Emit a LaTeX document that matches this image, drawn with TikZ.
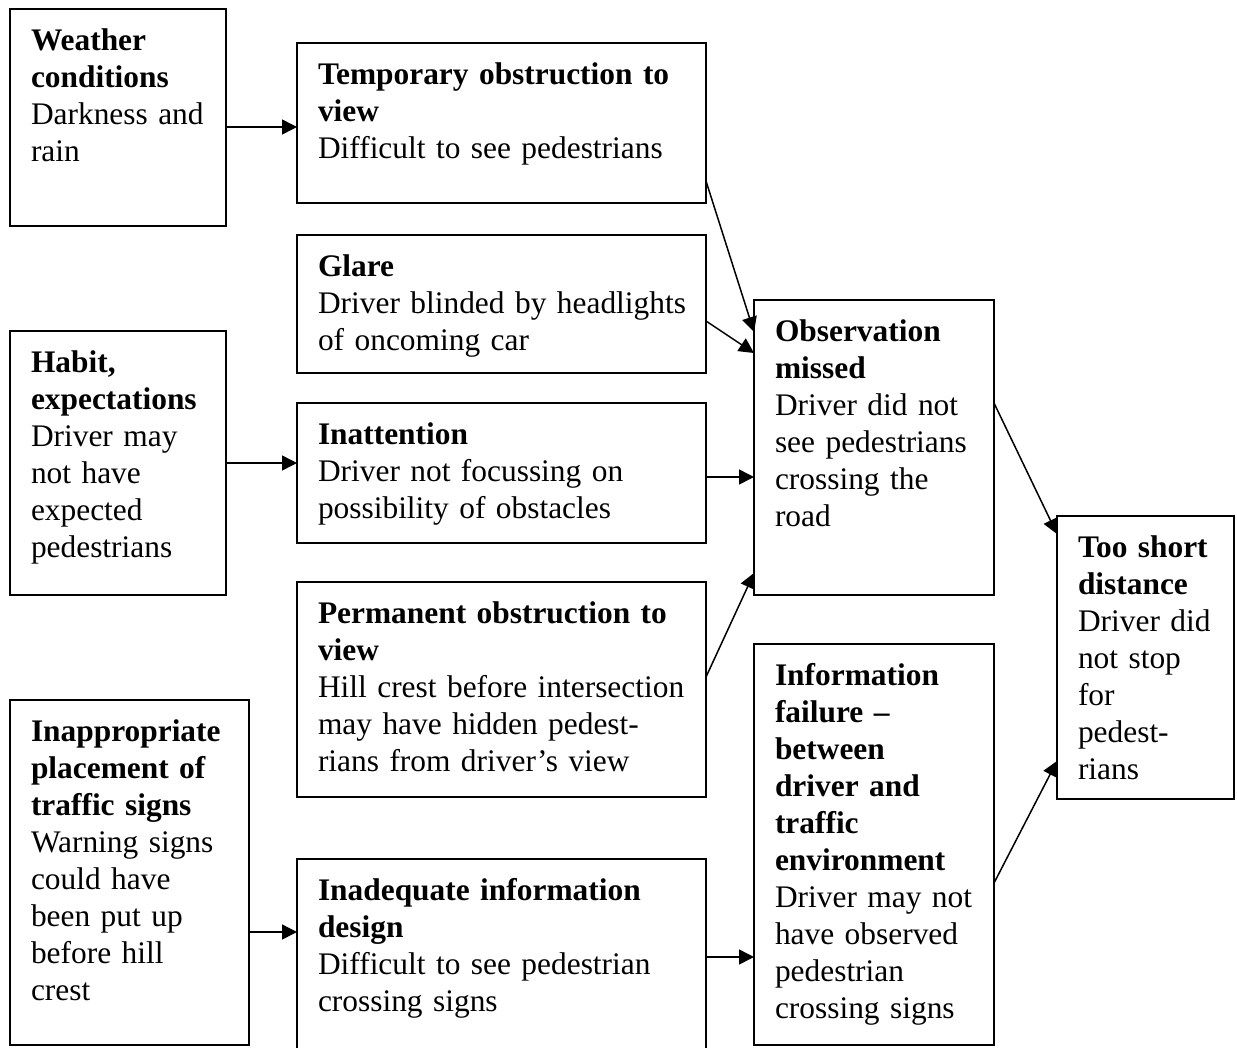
\documentclass[tikz,border=0pt]{standalone}
\usepackage{fontspec}
\setmainfont{Liberation Serif}
\usetikzlibrary{arrows.meta}
\tikzset{
  cbframe/.style={draw=black, line width=1.6pt, inner sep=0pt, outer sep=0pt, anchor=north west},
  cbtext/.style={inner sep=0pt, outer sep=0pt, anchor=north west, text width=520pt, align=left,
                 font=\fontsize{31.4}{37}\selectfont},
  cblink/.style={line width=1.5pt, -{Triangle[length=15pt,width=15pt]}}
}
% box: name, left, top, width, height, text
\newcommand\causebox[6]{%
  \node[cbframe, minimum width=#4pt, minimum height=#5pt] (#1) at (#2,#3) {};
  \node[cbtext] (#1-t) at ([xshift=21pt,yshift=-15.5pt]#1.north west) {\strut #6};}
\begin{document}
\begin{tikzpicture}[x=1pt,y=-1pt]
\useasboundingbox (0,0) rectangle (1237,1047);

\causebox{weather}{10}{9}{216}{217}{\textbf{Weather}\\\textbf{conditions}\\Darkness and\\rain}
\causebox{temp}{297}{43}{409}{160}{\textbf{Temporary obstruction to}\\\textbf{view}\\Difficult to see pedestrians}
\causebox{glare}{297}{235}{409}{138}{\textbf{Glare}\\Driver blinded by headlights\\of oncoming car}
\causebox{habit}{10}{331}{216}{264}{\textbf{Habit,}\\\textbf{expectations}\\Driver may\\not have\\expected\\pedestrians}
\causebox{inatt}{297}{403}{409}{140}{\textbf{Inattention}\\Driver not focussing on\\possibility of obstacles}
\causebox{obs}{754}{300}{240}{295}{\textbf{Observation}\\\textbf{missed}\\Driver did not\\see pedestrians\\crossing the\\road}
\causebox{perm}{297}{582}{409}{215}{\textbf{Permanent obstruction to}\\\textbf{view}\\Hill crest before intersection\\may have hidden pedest-\\rians from driver’s view}
\causebox{inapp}{10}{700}{239}{345}{\textbf{Inappropriate}\\\textbf{placement of}\\\textbf{traffic signs}\\Warning signs\\could have\\been put up\\before hill\\crest}
\causebox{inadeq}{297}{859}{409}{220}{\textbf{Inadequate information}\\\textbf{design}\\Difficult to see pedestrian\\crossing signs}
\causebox{info}{754}{644}{240}{401}{\textbf{Information}\\\textbf{failure –}\\\textbf{between}\\\textbf{driver and}\\\textbf{traffic}\\\textbf{environment}\\Driver may not\\have observed\\pedestrian\\crossing signs}
\causebox{tooshort}{1057}{516}{177}{283}{\textbf{Too short}\\\textbf{distance}\\Driver did\\not stop\\for\\pedest-\\rians}

% horizontal links
\coordinate (a1) at ([yshift=-4pt]temp.west);
\draw[cblink] (a1 -| weather.east) -- (a1);
\draw[cblink] (habit.east) -- (habit.east -| inatt.west);
\coordinate (a3) at ([yshift=-4pt]inatt.east);
\draw[cblink] (a3) -- (a3 -| obs.west);
\coordinate (a4) at ([yshift=-73pt]inadeq.north west);
\draw[cblink] (a4 -| inapp.east) -- (a4);
\coordinate (a5) at ([yshift=-98pt]inadeq.north east);
\draw[cblink] (a5) -- (a5 -| info.west);

% slanted links
\draw[cblink] ([yshift=22pt]temp.south east) -- ([yshift=-32pt]obs.north west);
\draw[cblink] ([yshift=52pt]glare.south east) -- ([yshift=-53pt]obs.north west);
\draw[cblink] ([yshift=-95pt]perm.north east) -- ([yshift=22pt]obs.south west);
\draw[cblink] ([yshift=-103pt]obs.north east) -- ([yshift=-18pt]tooshort.north west);
\draw[cblink] ([yshift=-239pt]info.north east) -- ([yshift=38pt]tooshort.south west);
\end{tikzpicture}
\end{document}
